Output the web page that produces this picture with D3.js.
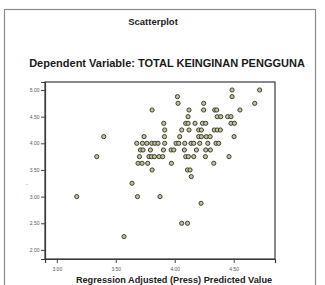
<!DOCTYPE html>
<html><head><meta charset="utf-8">
<script src="https://cdn.jsdelivr.net/npm/d3@7"></script>
<style>body{margin:0;background:#fff}svg{display:block}</style>
</head><body>
<script>
const xTicks = [3.00, 3.50, 4.00, 4.50];
const yTicks = [2.00, 2.50, 3.00, 3.50, 4.00, 4.50, 5.00];
// Predicted values (x) and observed values (y)
const predicted = [
 4.486,4.720,
 4.023,4.486,
 4.028,4.245,4.678,
 3.808,4.121,4.245,4.339,4.356,4.553,
 4.113,4.360,4.390,4.449,4.477,
 3.907,4.093,4.113,4.172,4.235,4.263,4.477,4.506,
 3.915,4.059,4.121,4.203,4.226,4.335,4.360,4.387,
 3.398,3.740,3.913,4.042,4.203,4.226,4.268,4.300,4.503,
 3.678,3.726,3.763,3.805,3.831,3.858,3.915,4.011,4.034,4.085,4.138,4.161,4.212,4.280,4.350,4.373,
 3.709,3.731,3.794,3.904,3.969,3.992,4.082,4.184,4.263,4.302,
 3.339,3.701,3.782,3.803,3.828,3.867,3.898,4.093,4.116,4.161,4.260,4.460,
 3.689,3.723,3.771,3.972,4.331,
 3.808,4.108,4.130,
 4.140,
 3.638,
 3.169,3.684,3.875,
 4.223,
 4.059,4.108,
 3.570
];
const observed = [
 5.000,5.000,
 4.875,4.875,
 4.750,4.750,4.750,
 4.625,4.625,4.625,4.625,4.625,4.625,
 4.500,4.500,4.500,4.500,4.500,
 4.375,4.375,4.375,4.375,4.375,4.375,4.375,4.375,
 4.250,4.250,4.250,4.250,4.250,4.250,4.250,4.250,
 4.125,4.125,4.125,4.125,4.125,4.125,4.125,4.125,4.125,
 4.000,4.000,4.000,4.000,4.000,4.000,4.000,4.000,4.000,4.000,4.000,4.000,4.000,4.000,4.000,4.000,
 3.875,3.875,3.875,3.875,3.875,3.875,3.875,3.875,3.875,3.875,
 3.750,3.750,3.750,3.750,3.750,3.750,3.750,3.750,3.750,3.750,3.750,3.750,
 3.625,3.625,3.625,3.625,3.625,
 3.500,3.500,3.500,
 3.375,
 3.250,
 3.000,3.000,3.000,
 2.875,
 2.500,2.500,
 2.250
];
const titleText = "Scatterplot";
const subtitleText = "Dependent Variable: TOTAL KEINGINAN PENGGUNA";
const xLabelText = "Regression Adjusted (Press) Predicted Value";

const W = 325, H = 285;
const svg = d3.select("body").append("svg").attr("width", W).attr("height", H);

// outer frame
svg.append("rect").attr("x", 4.5).attr("y", 9.5).attr("width", 311).attr("height", 290)
  .attr("fill", "none").attr("stroke", "#8a8a8a").attr("stroke-width", 1.2);

svg.append("text").attr("x", 153).attr("y", 25).attr("text-anchor", "middle")
  .attr("font-family", "Liberation Sans, Arial, sans-serif").attr("font-size", 9.5).attr("font-weight", "bold")
  .attr("fill", "#222").text(titleText);
svg.append("text").attr("x", 167).attr("y", 67).attr("text-anchor", "middle")
  .attr("font-family", "Liberation Sans, Arial, sans-serif").attr("font-size", 11).attr("font-weight", "bold")
  .attr("fill", "#1a1a1a").text(subtitleText);

const L = 45, R = 275, T = 82, B = 259;
const x = d3.scaleLinear().domain([2.90, 4.85]).range([L, R]);
const y = d3.scaleLinear().domain([1.83, 5.15]).range([B, T]);

// plot frame
svg.append("rect").attr("x", L).attr("y", T).attr("width", R - L).attr("height", B - T)
  .attr("fill", "#fff").attr("stroke", "#3a3a3a").attr("stroke-width", 1.2);

const xAxis = svg.append("g").attr("transform", `translate(0,${B})`)
  .call(d3.axisBottom(x).tickValues(xTicks).tickFormat(d3.format(".2f")).tickSize(4).tickPadding(4));
const yAxis = svg.append("g").attr("transform", `translate(${L},0)`)
  .call(d3.axisLeft(y).tickValues(yTicks).tickFormat(d3.format(".2f")).tickSize(4).tickPadding(1.5));
[xAxis, yAxis].forEach(g => {
  g.select(".domain").attr("stroke", "#3a3a3a").attr("stroke-width", 1.2);
  g.selectAll(".tick line").attr("stroke", "#444");
  g.selectAll(".tick text").attr("font-family", "Liberation Sans, Arial, sans-serif")
    .attr("font-size", 5).attr("fill", "#555");
});

svg.append("text").attr("x", 174).attr("y", 283).attr("text-anchor", "middle")
  .attr("font-family", "Liberation Sans, Arial, sans-serif").attr("font-size", 9.2).attr("font-weight", "bold")
  .attr("fill", "#222").text(xLabelText);
svg.append("text").attr("x", 27).attr("y", 186).attr("text-anchor", "middle")
  .attr("font-family", "Liberation Sans, Arial, sans-serif").attr("font-size", 5)
  .attr("fill", "#555").text("-");

const pts = predicted.map((p, i) => ({p, o: observed[i]}));
svg.append("g").selectAll("circle").data(pts).join("circle")
  .attr("cx", d => x(d.p)).attr("cy", d => y(d.o)).attr("r", 2.1)
  .attr("fill", "#c2c29a").attr("stroke", "#2e2e22").attr("stroke-width", 0.9);
</script>
</body></html>
